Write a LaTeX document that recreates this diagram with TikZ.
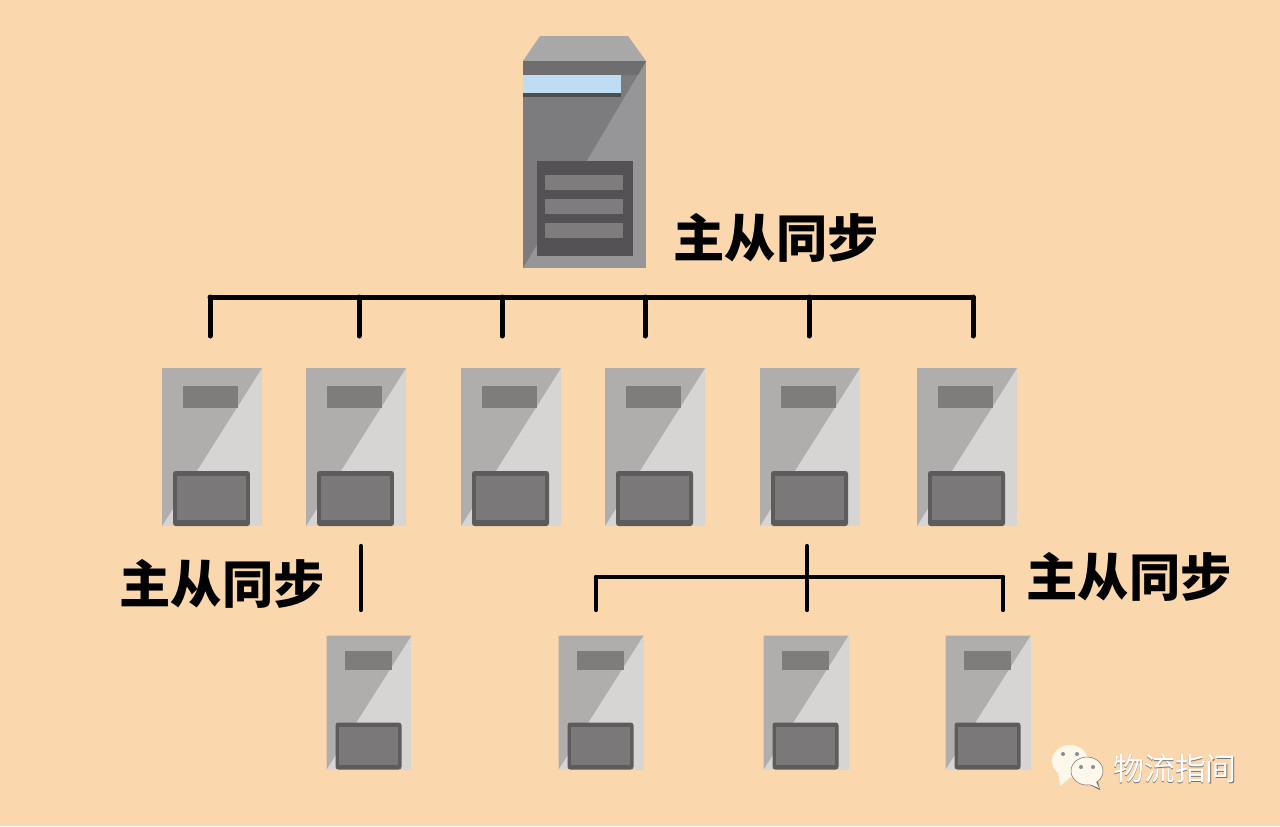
\documentclass[tikz,border=0pt]{standalone}
\usepackage{fontspec}
\newfontfamily\cjk{Noto Sans CJK SC}
\usetikzlibrary{positioning}
\definecolor{peach}{HTML}{FBD7AD}
\definecolor{rackdark}{HTML}{AFAEAC}
\definecolor{racklight}{HTML}{D6D5D4}
\definecolor{slotgrey}{HTML}{7F7D7C}
\definecolor{paneledge}{HTML}{5D5B5B}
\definecolor{panelgrey}{HTML}{7A7878}
\definecolor{masterdark}{HTML}{7C7C7E}
\definecolor{masterlight}{HTML}{969598}
\definecolor{mastertop}{HTML}{A8A8A8}
\definecolor{masterband}{HTML}{6E6E70}
\definecolor{masterbar}{HTML}{BFDDF2}
\definecolor{masterpanel}{HTML}{545254}
\definecolor{masterslot}{HTML}{7E7C7C}
\definecolor{bubble}{HTML}{FDF7EC}
\begin{document}
\begin{tikzpicture}[
    x=0.02cm, y=-0.02cm,
    every node/.style={inner sep=0pt, font=\cjk},
    rackbig/.style={minimum width=2cm, minimum height=3.16cm, fill=racklight, path picture={
        \fill[rackdark] (path picture bounding box.north west) -- (path picture bounding box.north east) -- (path picture bounding box.south west) -- cycle;
        \fill[slotgrey] ([shift={(.42cm,-.36cm)}]path picture bounding box.north west) rectangle +(1.1cm,-.44cm);
        \fill[paneledge, rounded corners=1.5pt] ([shift={(.22cm,0cm)}]path picture bounding box.south west) rectangle +(1.54cm,1.1cm);
        \fill[panelgrey] ([shift={(.3cm,.12cm)}]path picture bounding box.south west) rectangle +(1.38cm,.88cm);
    }},
    racksmall/.style={minimum width=1.7cm, minimum height=2.68cm, fill=racklight, path picture={
        \fill[rackdark] (path picture bounding box.north west) -- (path picture bounding box.north east) -- (path picture bounding box.south west) -- cycle;
        \fill[slotgrey] ([shift={(.36cm,-.3cm)}]path picture bounding box.north west) rectangle +(.94cm,-.38cm);
        \fill[paneledge, rounded corners=1.5pt] ([shift={(.18cm,0cm)}]path picture bounding box.south west) rectangle +(1.32cm,.94cm);
        \fill[panelgrey] ([shift={(.25cm,.1cm)}]path picture bounding box.south west) rectangle +(1.18cm,.76cm);
    }},
    rackmaster/.style={minimum width=2.46cm, minimum height=4.14cm, fill=masterlight, path picture={
        \fill[masterdark] (path picture bounding box.north west) -- (path picture bounding box.north east) -- (path picture bounding box.south west) -- cycle;
        \fill[masterband] (path picture bounding box.north west) -- (path picture bounding box.north east) -- ++(-.16cm,-.28cm) -- ++(-2.3cm,0cm) -- cycle;
        \fill[masterband!70!black] ([yshift=-.36cm]path picture bounding box.north west) rectangle +(1.96cm,-.36cm);
        \fill[masterbar] ([yshift=-.28cm]path picture bounding box.north west) rectangle +(1.96cm,-.36cm);
        \fill[masterpanel] ([shift={(.28cm,.24cm)}]path picture bounding box.south west) rectangle +(1.92cm,1.9cm);
        \fill[masterslot] ([shift={(.44cm,1.56cm)}]path picture bounding box.south west) rectangle +(1.56cm,.3cm);
        \fill[masterslot] ([shift={(.44cm,1.08cm)}]path picture bounding box.south west) rectangle +(1.56cm,.3cm);
        \fill[masterslot] ([shift={(.44cm,.6cm)}]path picture bounding box.south west) rectangle +(1.56cm,.3cm);
    }},
    heading/.style={font=\cjk\bfseries\fontsize{29.2}{32}\selectfont, text=black},
    mark text/.style={font=\cjk\fontsize{17.6}{20}\selectfont},
    bus/.style={line width=.1cm, line cap=round, black},
    busthin/.style={line width=.085cm, line cap=round, black}
]
\useasboundingbox (0,0) rectangle (1280,826);
\fill[peach] (0,0) rectangle (1280,826);

% master
\fill[mastertop] (523,61) -- (646,61) -- (628,36) -- (540,36) -- cycle;
\node[rackmaster] (master) at (584.5,164.5) {};
\node[heading] (synctop) at (776,238) {主从同步};

% first row
\node[rackbig] (slavea) at (212,447) {};
\node[rackbig] (slaveb) at (356,447) {};
\node[rackbig] (slavec) at (511,447) {};
\node[rackbig] (slaved) at (655,447) {};
\node[rackbig] (slavee) at (810,447) {};
\node[rackbig] (slavef) at (967,447) {};

% second row
\node[racksmall] (subb) at (369,702.5) {};
\node[racksmall] (subea) at (601,702.5) {};
\node[racksmall] (subeb) at (806,702.5) {};
\node[racksmall] (subec) at (988,702.5) {};

% top bus
\coordinate (busl) at (210,297);
\coordinate (busr) at (973,297);
\coordinate (busb) at (359,297);
\coordinate (busc) at (502,297);
\coordinate (busd) at (645,297);
\coordinate (buse) at (809,297);
\draw[bus] (busl) -- (busr);
\draw[bus] (busl) -- +(0,39);
\draw[bus] (busb) -- +(0,39);
\draw[bus] (busc) -- +(0,39);
\draw[bus] (busd) -- +(0,39);
\draw[bus] (buse) -- +(0,39);
\draw[bus] (busr) -- +(0,39);

% lower links
\coordinate (linkb) at (361,546);
\coordinate (linke) at (807,546);
\coordinate (forkl) at (596,577);
\coordinate (forkr) at (1003,577);
\draw[busthin] (linkb) -- +(0,64);
\draw[busthin] (linke) -- +(0,64);
\draw[busthin] (forkl) -- (forkr);
\draw[busthin] (forkl) -- +(0,33);
\draw[busthin] (forkr) -- +(0,33);
\node[heading] (syncleft) at (222,584) {主从同步};
\node[heading] (syncright) at (1129,577) {主从同步};

% watermark
\fill[bubble] (1058,771) -- (1060,786) -- (1072,776) -- cycle;
\fill[bubble] (1070,761) ellipse (18 and 16);
\fill[black!55] (1097,778) -- (1100,790) -- (1086,783) -- cycle;
\fill[bubble, draw=black!55, line width=.3pt] (1087,771) ellipse (16 and 14);
\fill[bubble] (1095,780) -- (1099,788) -- (1087,783) -- cycle;
\fill[black!45] (1063,754) circle (2) (1077,754) circle (2) (1081,767) circle (2) (1093,767) circle (2);
\node[mark text, text=black!55] (brandshadow) at (1175.6,769.6) {物流指间};
\node[mark text, text=white] (brand) at (1175,769) {物流指间};
\end{tikzpicture}
\end{document}
